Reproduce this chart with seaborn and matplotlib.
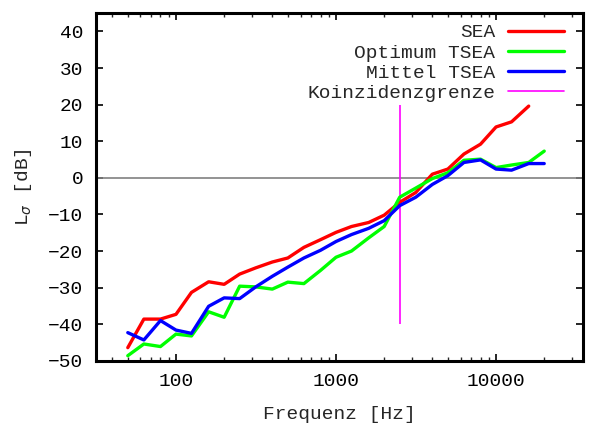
import numpy as np
import pandas as pd
import matplotlib
matplotlib.use("Agg")
import matplotlib.pyplot as plt
from matplotlib.lines import Line2D
from matplotlib.ticker import FixedLocator, LogLocator, NullFormatter
import seaborn as sns

# Terzband-Mittenfrequenzen [Hz]
freqs = [50, 63, 80, 100, 125, 160, 200, 250, 315, 400, 500, 630, 800, 1000,
         1250, 1600, 2000, 2500, 3150, 4000, 5000, 6300, 8000, 10000, 12500,
         16000, 20000]

# Abstrahlmass L_sigma [dB]
sea = [-46.4, -38.6, -38.6, -37.3, -31.3, -28.4, -29.1, -26.3, -24.6, -23.0,
       -21.9, -19.0, -16.9, -14.9, -13.3, -12.2, -10.2, -6.7, -4.0, 1.0,
       2.4, 6.5, 9.2, 13.9, 15.3, 19.6]
optimum_tsea = [-48.6, -45.4, -46.1, -42.7, -43.2, -36.6, -38.1, -29.6, -29.8,
                -30.4, -28.5, -28.9, -25.3, -21.7, -20.0, -16.4, -13.3, -5.3,
                -2.8, -0.2, 1.4, 4.8, 5.1, 2.8, 3.5, 4.2, 7.3]
mittel_tsea = [-42.3, -44.3, -39.0, -41.6, -42.5, -35.1, -32.8, -33.0, -29.8,
               -26.9, -24.4, -21.9, -19.8, -17.4, -15.5, -13.8, -11.7, -7.6,
               -5.3, -1.8, 0.6, 4.2, 4.9, 2.4, 2.1, 3.9, 3.9]

# Koinzidenzgrenze
koinz_f = 2500
koinz_y = [-40, 20]

series = ["SEA", "Optimum TSEA", "Mittel TSEA"]
colors = {"SEA": "#ff0000", "Optimum TSEA": "#00ff00", "Mittel TSEA": "#0000ff"}

frames = []
for name, vals in zip(series, [sea, optimum_tsea, mittel_tsea]):
    frames.append(pd.DataFrame({"f": freqs[:len(vals)], "L": vals, "Kurve": name}))
df = pd.concat(frames, ignore_index=True)

sns.set_theme(style="ticks")
plt.rcParams["font.family"] = ["Liberation Mono", "DejaVu Sans"]
plt.rcParams["mathtext.fontset"] = "dejavusans"

fs = 14

fig, ax = plt.subplots(figsize=(5.92, 4.24), dpi=100)
fig.subplots_adjust(left=0.162, right=0.985, bottom=0.149, top=0.969)

ax.axhline(0, color="#808080", lw=1.2, zorder=1)

sns.lineplot(data=df, x="f", y="L", hue="Kurve", hue_order=series,
             palette=colors, lw=2.4, legend=False, ax=ax, zorder=3)

ax.vlines(koinz_f, koinz_y[0], koinz_y[1], color="#ff00ff", lw=1.2, zorder=2)

ax.set_xscale("log")
ax.set_xlim(31.6, 35000)
ax.set_ylim(-50, 45)

ax.xaxis.set_major_locator(FixedLocator([100, 1000, 10000]))
ax.set_xticklabels(["100", "1000", "10000"])
ax.xaxis.set_minor_locator(LogLocator(base=10, subs=np.arange(2, 10)))
ax.xaxis.set_minor_formatter(NullFormatter())
ax.set_yticks(np.arange(-50, 41, 10))

for side in ["top", "bottom", "left", "right"]:
    ax.spines[side].set_visible(True)
    ax.spines[side].set_linewidth(2.2)
    ax.spines[side].set_color("black")

ax.tick_params(axis="both", which="major", direction="in", length=5, width=1.2,
               top=True, right=True, labelsize=fs, colors="black")
ax.tick_params(axis="both", which="minor", direction="in", length=2.8, width=1.0,
               top=True, right=True)
ax.tick_params(axis="y", pad=9)
ax.tick_params(axis="x", pad=9)

ax.set_xlabel("Frequenz [Hz]", fontsize=fs, labelpad=11)
ax.set_ylabel(r"L$_\sigma$ [dB]", fontsize=fs, labelpad=10)

handles = [Line2D([], [], color=colors[s], lw=2.4) for s in series]
handles.append(Line2D([], [], color="#ff00ff", lw=1.2))
labels = series + ["Koinzidenzgrenze"]
ax.legend(handles, labels, loc="upper right", bbox_to_anchor=(0.985, 1.003),
          frameon=False, markerfirst=False, fontsize=fs, handlelength=2.9,
          handletextpad=0.65, labelspacing=0.13, borderaxespad=0.2)

plt.savefig("out.png", dpi=100)
